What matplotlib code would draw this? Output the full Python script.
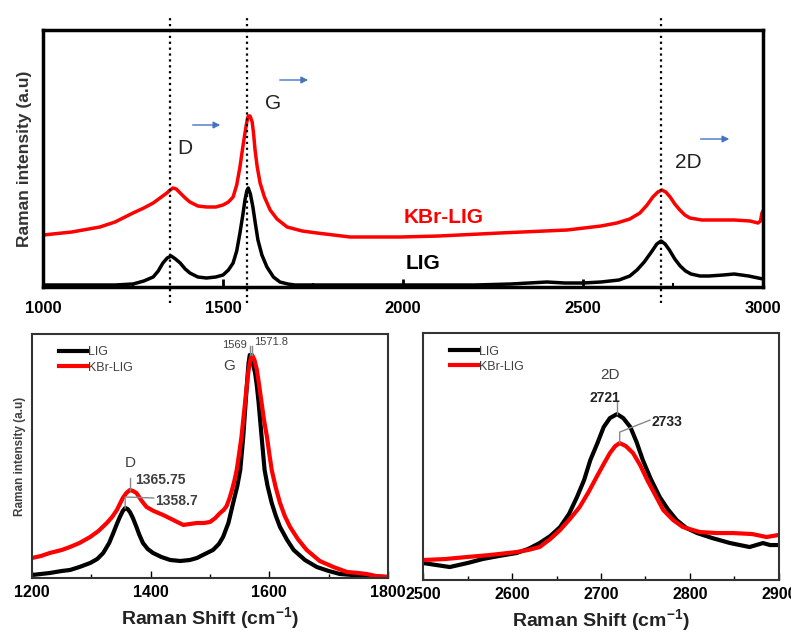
import matplotlib
matplotlib.use("Agg")
import matplotlib.pyplot as plt
from matplotlib.ticker import MultipleLocator

plt.rcParams['font.family'] = ['Liberation Sans', 'DejaVu Sans']
plt.rcParams['mathtext.fontset'] = 'custom'
plt.rcParams['mathtext.rm'] = 'Liberation Sans'
plt.rcParams['mathtext.bf'] = 'Liberation Sans:bold'
plt.rcParams['lines.solid_joinstyle'] = 'round'

# --- full spectrum (top panel), intensity in a.u. ---
top_lig_x = [1000, 1050, 1100, 1150, 1200, 1250, 1280, 1306, 1320, 1333, 1345, 1356,
             1368, 1381, 1395, 1408, 1430, 1454, 1480, 1500, 1515, 1528, 1538, 1547,
             1555, 1561, 1566, 1570, 1576, 1583, 1590, 1597, 1608, 1622, 1640, 1658,
             1680, 1700, 1800, 1900, 2000, 2100, 2200, 2300, 2400, 2450, 2500, 2550,
             2600, 2630, 2650, 2670, 2690, 2705, 2717, 2728, 2740, 2755, 2770, 2785,
             2800, 2825, 2850, 2890, 2920, 2960, 3000]
top_lig_y = [2, 2, 2, 2, 2, 3, 6, 10, 16, 24, 29, 31,
             28, 24, 18, 14, 10, 9, 10, 12, 17, 24, 36, 54,
             72, 87, 96, 99, 93, 80, 63, 47, 32, 20, 10, 5,
             3, 2, 2, 2, 2, 2, 2, 3, 5, 4, 4, 5,
             7, 11, 17, 25, 35, 43, 46, 43, 37, 28, 21, 16,
             13, 11, 11, 12, 13, 11, 8]

top_kbr_x = [1000, 1080, 1158, 1200, 1250, 1280, 1306, 1325, 1344, 1353, 1361, 1370,
             1381, 1395, 1408, 1430, 1454, 1480, 1500, 1515, 1528, 1538, 1547, 1555,
             1561, 1566, 1570, 1575, 1581, 1585, 1589, 1595, 1603, 1615, 1631, 1650,
             1678, 1720, 1761, 1853, 1992, 2100, 2269, 2456, 2550, 2594, 2630, 2658,
             2678, 2694, 2708, 2719, 2730, 2742, 2755, 2769, 2783, 2797, 2830, 2872,
             2920, 2964, 2986, 2993, 2997, 3000]
top_kbr_y = [52, 55, 60, 65, 74, 79, 84, 89, 94, 97, 99, 98,
             94, 89, 85, 81, 80, 80, 82, 85, 90, 102, 120, 140,
             154, 165, 171, 171, 165, 153, 137, 120, 104, 90, 77, 68,
             60, 56, 54, 50, 50, 51, 54, 57, 61, 64, 68, 74,
             82, 90, 95, 97, 95, 90, 83, 77, 72, 69, 67, 67,
             67, 66, 64, 66, 74, 76]

# --- D and G region ---
dg_lig_x = [1200, 1215, 1230, 1250, 1264, 1280, 1298, 1310, 1320, 1330, 1337, 1343,
            1348, 1353, 1357, 1361, 1365, 1370, 1376, 1381, 1387, 1395, 1404, 1418,
            1433, 1450, 1466, 1478, 1488, 1505, 1515, 1522, 1531, 1539, 1546, 1551,
            1556, 1560, 1563, 1565, 1567, 1569, 1572, 1576, 1579, 1582, 1587, 1592,
            1597, 1604, 1611, 1618, 1630, 1641, 1660, 1680, 1700, 1719, 1740, 1764,
            1800]
dg_lig_y = [3, 4, 5, 7, 8, 11, 15, 19, 25, 35, 45, 54,
            61, 67, 70, 69, 66, 60, 51, 43, 35, 29, 25, 21,
            18, 17, 18, 20, 23, 28, 34, 41, 55, 75, 92, 108,
            141, 175, 200, 215, 223, 222, 215, 205, 192, 175, 141, 108,
            92, 75, 62, 51, 38, 28, 18, 11, 7, 4, 3, 2,
            1]

dg_kbr_x = [1200, 1215, 1230, 1250, 1264, 1280, 1298, 1312, 1326, 1335, 1343, 1348,
            1353, 1359, 1365, 1370, 1376, 1385, 1393, 1405, 1421, 1438, 1455, 1466,
            1478, 1490, 1500, 1509, 1517, 1523, 1528, 1533, 1537, 1541, 1545, 1549,
            1553, 1556, 1559, 1562, 1565, 1568, 1571, 1575, 1579, 1583, 1587, 1591,
            1596, 1600, 1604, 1611, 1618, 1626, 1635, 1648, 1663, 1685, 1708, 1731,
            1750, 1764, 1780, 1800]
dg_kbr_y = [20, 22, 25, 28, 31, 35, 41, 47, 55, 61, 68, 74,
            80, 85, 88, 87, 85, 77, 71, 67, 63, 58, 53, 54,
            55, 55, 56, 60, 65, 68, 72, 80, 88, 97, 108, 124,
            141, 158, 175, 192, 208, 218, 223, 218, 208, 192, 175, 158,
            141, 124, 108, 90, 75, 62, 51, 39, 28, 17, 11, 6,
            5, 4, 2, 1]

# --- 2D region ---
d2_lig_x = [2500, 2515, 2530, 2550, 2567, 2585, 2605, 2618, 2631, 2643, 2654, 2664,
            2673, 2681, 2688, 2696, 2703, 2710, 2718, 2725, 2733, 2740, 2747, 2756,
            2766, 2775, 2785, 2796, 2808, 2825, 2845, 2856, 2867, 2882, 2890, 2899]
d2_lig_y = [17, 15, 13, 17, 21, 24, 27, 31, 37, 44, 53, 66,
            83, 100, 120, 137, 153, 162, 166, 162, 153, 138, 120, 101,
            83, 71, 60, 52, 47, 42, 37, 35, 33, 37, 35, 35]

d2_kbr_x = [2500, 2525, 2549, 2575, 2605, 2618, 2631, 2643, 2654, 2665, 2676, 2686,
            2695, 2703, 2710, 2716, 2721, 2728, 2736, 2744, 2752, 2761, 2770, 2781,
            2792, 2811, 2830, 2848, 2870, 2886, 2899]
d2_kbr_y = [20, 21, 23, 25, 28, 30, 33, 41, 50, 61, 73, 88,
            103, 116, 127, 134, 137, 134, 127, 115, 100, 85, 70, 60,
            53, 48, 47, 47, 46, 43, 45]

peak_lines = [1352, 1567, 2717]

RED = '#ff0000'
GRAY = '#404040'

fig = plt.figure(figsize=(7.91, 6.33), dpi=100)

# ---------------- top panel ----------------
ax = fig.add_axes([0.0544, 0.5466, 0.9102, 0.406])
ax.plot(top_lig_x, top_lig_y, color='black', lw=2.5)
ax.plot(top_kbr_x, top_kbr_y, color=RED, lw=2.5)
ax.set_xlim(1000, 3000)
ax.set_ylim(0, 257)
ax.set_yticks([])
ax.xaxis.set_major_locator(MultipleLocator(500))
ax.xaxis.set_minor_locator(MultipleLocator(250))
ax.tick_params(axis='x', which='major', direction='in', length=6, width=2, pad=10)
ax.tick_params(axis='x', which='minor', direction='in', length=3, width=1.5)
for lab in ax.get_xticklabels():
    lab.set_fontweight('bold')
    lab.set_fontsize(12)
for sp in ax.spines.values():
    sp.set_linewidth(2.5)
ax.set_ylabel('Raman intensity (a.u)', fontsize=12.5, fontweight='bold',
              color='#333333', labelpad=8)

for xp in peak_lines:
    ax.plot([xp, xp], [-16, 272], ls=':', color='black', lw=1.6, clip_on=False)

ax.text(1394, 139, 'D', fontsize=15, ha='center', va='center', color='#222222')
ax.text(1639, 184, 'G', fontsize=15, ha='center', va='center', color='#222222')
ax.text(2792, 125, '2D', fontsize=15, ha='center', va='center', color='#222222')
ax.text(2114, 70, 'KBr-LIG', fontsize=15, fontweight='bold', color=RED,
        ha='center', va='center')
ax.text(2056, 24, 'LIG', fontsize=15, fontweight='bold', color='black',
        ha='center', va='center')

for x0, x1, yy in [(1408, 1500, 162), (1650, 1744, 207), (2819, 2914, 148)]:
    ax.annotate('', xy=(x1, yy), xytext=(x0, yy),
                arrowprops=dict(arrowstyle='-|>', color='#4472c4', lw=1,
                                mutation_scale=10))


# ---------------- bottom panels ----------------
def style_small(a):
    for sp in a.spines.values():
        sp.set_linewidth(1.5)
        sp.set_color('#333333')
    a.set_yticks([])
    a.tick_params(axis='x', which='major', direction='in', length=5, width=1, pad=5)
    a.tick_params(axis='x', which='minor', direction='in', length=3, width=1)
    for lab in a.get_xticklabels():
        lab.set_fontweight('bold')
        lab.set_fontsize(11.5)
    a.set_xlabel(r'Raman Shift (cm$^{\mathbf{-1}}$)', fontsize=14, fontweight='bold',
                 color='#222222', labelpad=4)
    leg = a.legend(loc='upper left', frameon=False, fontsize=9, handlelength=2.3,
                   handletextpad=0.0, borderaxespad=0.6, labelspacing=0.25,
                   bbox_to_anchor=(0.04, 1.0))
    for t in leg.get_texts():
        t.set_color(GRAY)


ax2 = fig.add_axes([0.0405, 0.0869, 0.450, 0.3855])
ax2.plot(dg_lig_x, dg_lig_y, color='black', lw=3, label='LIG')
ax2.plot(dg_kbr_x, dg_kbr_y, color=RED, lw=3, label='KBr-LIG')
ax2.set_xlim(1200, 1800)
ax2.set_ylim(0, 244)
ax2.xaxis.set_major_locator(MultipleLocator(200))
ax2.xaxis.set_minor_locator(MultipleLocator(100))
style_small(ax2)
ax2.set_ylabel('Raman intensity (a.u)', fontsize=8.5, fontweight='bold',
               color=GRAY, labelpad=4)

ax2.text(1365, 108, 'D', fontsize=11, ha='center', va='bottom', color=GRAY)
ax2.plot([1365, 1365], [88, 100], color='#888888', lw=1)
ax2.text(1374, 98, '1365.75', fontsize=10, fontweight='bold', color=GRAY,
         ha='left', va='center')
ax2.plot([1357, 1357, 1405], [70, 81, 80], color='#888888', lw=1)
ax2.text(1407, 77, '1358.7', fontsize=10, fontweight='bold', color=GRAY,
         ha='left', va='center')
ax2.plot([1567, 1567], [223, 232], color='#888888', lw=1)
ax2.plot([1571, 1571], [223, 232], color='#888888', lw=1)
ax2.text(1562, 233, '1569', fontsize=8, color=GRAY, ha='right', va='center')
ax2.text(1575, 236, '1571.8', fontsize=8, color=GRAY, ha='left', va='center')
ax2.text(1532, 212, 'G', fontsize=11, color=GRAY, ha='center', va='center')

ax3 = fig.add_axes([0.5348, 0.0837, 0.450, 0.390])
ax3.plot(d2_lig_x, d2_lig_y, color='black', lw=3, label='LIG')
ax3.plot(d2_kbr_x, d2_kbr_y, color=RED, lw=3, label='KBr-LIG')
ax3.set_xlim(2500, 2900)
ax3.set_ylim(0, 247)
ax3.xaxis.set_major_locator(MultipleLocator(100))
ax3.xaxis.set_minor_locator(MultipleLocator(50))
style_small(ax3)

ax3.text(2710, 205, '2D', fontsize=11, color=GRAY, ha='center', va='center')
ax3.plot([2718, 2718], [166, 178], color='#888888', lw=1)
ax3.text(2704, 182, '2721', fontsize=10, fontweight='bold', color='#222222',
         ha='center', va='center')
ax3.plot([2721, 2721, 2755], [137, 148, 160], color='#888888', lw=1)
ax3.text(2757, 158, '2733', fontsize=10, fontweight='bold', color='#222222',
         ha='left', va='center')

fig.savefig('out.png', dpi=100)
